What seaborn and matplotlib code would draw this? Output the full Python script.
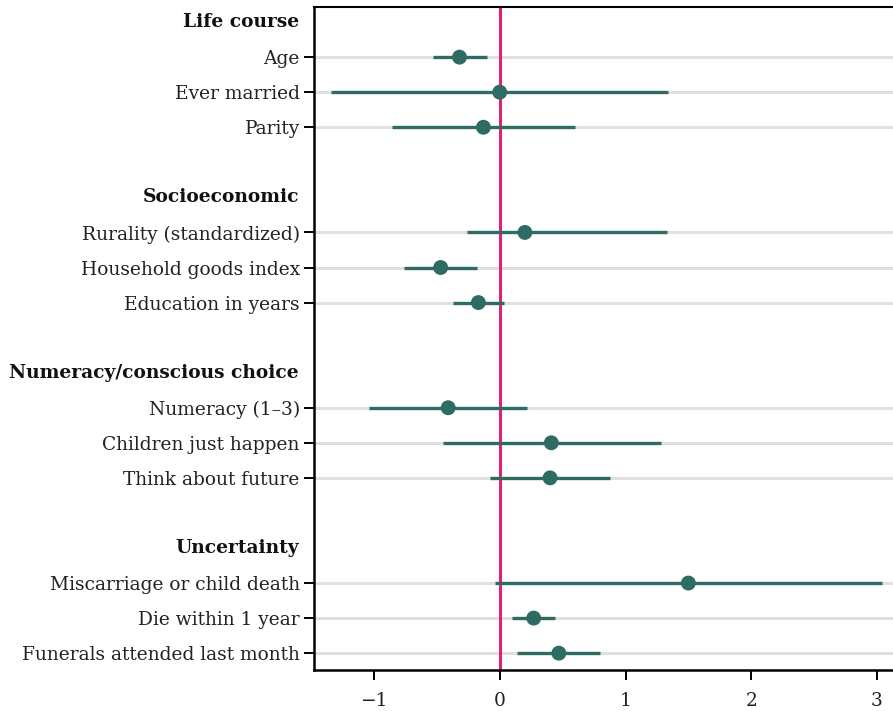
import numpy as np
import pandas as pd
import matplotlib.pyplot as plt
import seaborn as sns

# coefficient estimates with 95% intervals
groups = ["Life course", "Socioeconomic", "Numeracy/conscious choice", "Uncertainty"]
group_items = [
    ["Age", "Ever married", "Parity"],
    ["Rurality (standardized)", "Household goods index", "Education in years"],
    ["Numeracy (1\u20133)", "Children just happen", "Think about future"],
    ["Miscarriage or child death", "Die within 1 year", "Funerals attended last month"],
]
estimate = [-0.32, 0.00, -0.13, 0.20, -0.47, -0.17, -0.41, 0.41, 0.40, 1.50, 0.27, 0.47]
lower = [-0.53, -1.34, -0.86, -0.26, -0.76, -0.37, -1.04, -0.45, -0.08, -0.04, 0.10, 0.14]
upper = [-0.10, 1.34, 0.60, 1.33, -0.18, 0.03, 0.22, 1.28, 0.88, 3.04, 0.44, 0.80]

teal = "#2e6b62"
pink = "#e0217a"

# row layout: header, 3 items, blank gap
rows, labels, header_rows = [], [], []
r = 0
for g, items in zip(groups, group_items):
    header_rows.append(r)
    r += 1
    for it in items:
        rows.append(r)
        labels.append(it)
        r += 1
    r += 1

df = pd.DataFrame({"label": labels, "row": rows, "est": estimate,
                   "lo": lower, "hi": upper})

sns.set_style("white")
plt.rcParams["font.family"] = ["DejaVu Serif"]

fig = plt.figure(figsize=(8.93, 7.11), dpi=100)
ax = fig.add_axes([314 / 893, 1 - 670 / 711, 1 - 314 / 893, 663 / 711])

for y in df.row:
    ax.axhline(y, color="#e0e0e0", lw=2.2, zorder=0)
ax.axvline(0, color=pink, lw=2.2, zorder=1)
ax.hlines(df.row, df.lo, df.hi, color=teal, lw=2.4, zorder=2)
sns.scatterplot(data=df, x="est", y="row", ax=ax, color=teal, s=115,
                edgecolor="none", zorder=3, legend=False)

ax.set_ylim(18.48, -0.43)
ax.set_xlim(-1.477, 3.127)
ax.set_yticks(df.row)
ax.set_yticklabels(df.label)
ax.set_xticks([-1, 0, 1, 2, 3])
ax.set_xticklabels(["\u2212" + "1", "0", "1", "2", "3"])
ax.set_xlabel("")
ax.set_ylabel("")
ax.tick_params(axis="both", direction="out", length=7.2, width=1.4,
               labelsize=13.4, color="black", labelcolor="#222222",
               left=True, bottom=True)
ax.tick_params(axis="y", pad=3)
ax.tick_params(axis="x", pad=9)

for g, hr in zip(groups, header_rows):
    ax.text(-0.026, hr, g, transform=ax.get_yaxis_transform(), ha="right",
            va="center", fontsize=13.4, fontweight="bold", color="#111111")

ax.spines["right"].set_visible(False)
ax.spines["top"].set_linewidth(1.5)
for s in ["left", "bottom", "top"]:
    ax.spines[s].set_color("black")
for s in ["left", "bottom"]:
    ax.spines[s].set_linewidth(1.8)

fig.savefig("out.png", dpi=100)
